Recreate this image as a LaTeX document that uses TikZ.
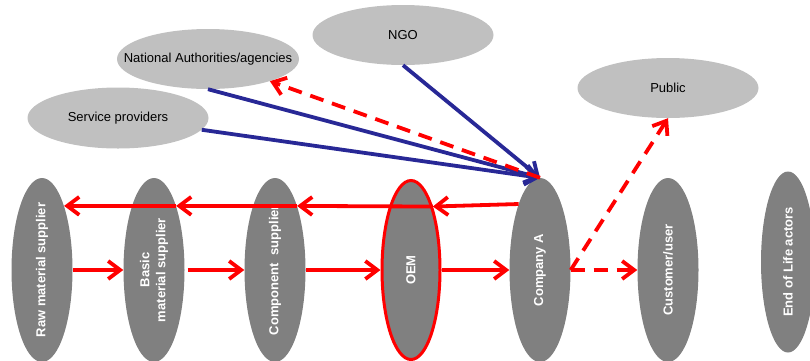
\documentclass[tikz,border=0pt]{standalone}
\usepackage{fontspec}
\setmainfont{Liberation Sans}
\usetikzlibrary{shapes.geometric,arrows.meta}
\definecolor{dgray}{HTML}{808080}
\definecolor{lgray}{HTML}{C0C0C0}
\definecolor{navyblue}{RGB}{40,40,150}
\begin{document}
\begin{tikzpicture}[x=1pt,y=-1pt,
  actor/.style={ellipse, fill=dgray, draw=none, minimum width=61pt, minimum height=184pt, inner sep=0pt},
  vtext/.style={rotate=90, text=white, font=\fontsize{13}{16}\selectfont\bfseries, align=center, inner sep=0pt},
  party/.style={ellipse, fill=lgray, minimum width=181pt, minimum height=60pt, inner sep=0pt},
  ptext/.style={inner sep=0pt, font=\fontsize{13}{15}\selectfont},
  redflow/.style={red, line width=3.8pt, -{Straight Barb[length=12pt,width=18pt]}},
  reddash/.style={redflow, dash pattern=on 14pt off 9pt},
  blueflow/.style={navyblue, line width=3.8pt, -{Straight Barb[length=12pt,width=18pt]}}]
\useasboundingbox (0,0) rectangle (810,360);

% upper actors
\node[party] (ngo)  at (403,35)  {};
\node[party, minimum width=182pt] (nat) at (208,59) {};
\node[party, minimum height=61pt] (serv) at (118,118) {};
\node[party] (pub)  at (668,88)  {};
\node[ptext] (ngot)  at (ngo)  {NGO};
\node[ptext] (natt)  at (nat)  {National Authorities/agencies};
\node[ptext] (servt) at (serv) {Service providers};
\node[ptext] (pubt)  at (pub)  {Public};

% chain actors
\node[actor] (raw)   at (42,270)  {};
\node[actor] (basic) at (154,270) {};
\node[actor] (comp)  at (275,270) {};
\node[actor, draw=red, line width=3pt, minimum width=58pt, minimum height=179pt] (oem) at (411,270) {};
\node[actor] (ca)    at (540,270) {};
\node[actor] (cust)  at (668,270) {};
\node[actor, minimum width=54pt, minimum height=181pt] (eol) at (788,262) {};

\node[vtext] (rawt)   at (raw)   {Raw material supplier};
\node[vtext] (basict) at (basic) {Basic\\material supplier};
\node[vtext] (compt)  at (comp)  {Component\ \ supplier};
\node[vtext] (oemt)   at (oem)   {OEM};
\node[vtext] (cat)    at (ca)    {Company A};
\node[vtext] (custt)  at (cust)  {Customer/user};
\node[vtext] (eolt)   at (eol)   {End of Life actors};

% blue influence arrows
\draw[blueflow] (ngo.south) -- (ca.north);
\draw[blueflow] (nat.south) -- (ca.north);
\draw[blueflow] (serv.-8) -- (ca.north);

% red dashed to authorities
\draw[reddash] (ca.north) -- (nat);

% upper return flow
\draw[redflow] (ca.108.4) -- (oem.71.6);
\draw[redflow] (oem.71.6) -- (comp.71.6);
\draw[redflow] (comp.71.6) -- (basic.71.6);
\draw[redflow] (basic.71.6) -- (raw.71.6);

% lower forward flow
\draw[redflow] (raw.east) -- (basic.west);
\draw[redflow, shorten <=3pt] (basic.east) -- (comp.west);
\draw[redflow] (comp.east) -- (oem.west);
\draw[redflow] (oem.east) -- (ca.west);

% dashed to customer and public
\draw[reddash] (ca.east) -- (cust.west);
\draw[reddash] (ca.east) -- (pub.south);
\end{tikzpicture}
\end{document}
